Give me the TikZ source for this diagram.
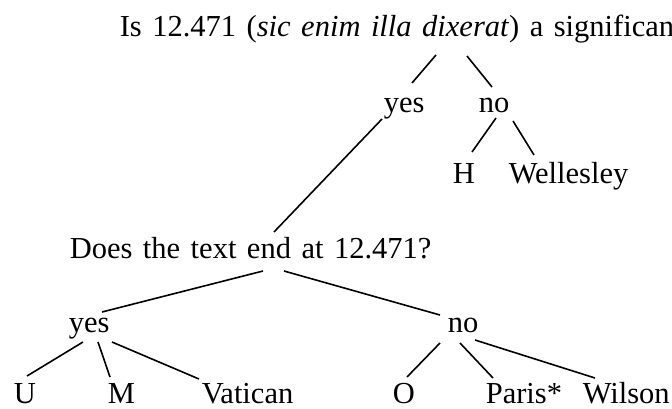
\documentclass[tikz,border=0pt]{standalone}
\usepackage{fontspec}
\setmainfont{Liberation Serif}
\newcommand{\treefont}{\fontsize{30.5}{36}\selectfont\spaceskip=10.5pt\relax}

\begin{document}
\begin{tikzpicture}[x=1pt, y=-1pt, line width=1.6pt,
    lbl/.style={font=\treefont, inner sep=0pt, anchor=base west}]
                \useasboundingbox (0,0) rectangle (672,408);
                % questions and answers
                \node[lbl] (root) at (119,36.5) {Is 12.471 (\textit{sic enim illa dixerat}) a significan};
                \node[lbl] (yes1) at (383,112) {yes};
                \node[lbl] (no1) at (478,112) {no};
                \node[lbl] (h) at (452,183) {H};
                \node[lbl] (wellesley) at (508,183) {Wellesley};
                \node[lbl] (does) at (69,258) {Does the text end at 12.471?};
                \node[lbl] (yes2) at (68,332) {yes};
                \node[lbl] (no2) at (447,332) {no};
                \node[lbl] (u) at (13,403) {U};
                \node[lbl] (m) at (107,403) {M};
                \node[lbl] (vatican) at (201,403) {Vatican};
                \node[lbl] (o) at (392,403) {O};
                \node[lbl] (paris) at (485,403) {Paris*};
                \node[lbl] (wilson) at (582,403) {Wilson};
                % branches
                \draw ([shift={(317,18.5)}]root.base west) -- ([shift={(29,-29)}]yes1.base west);
                \draw ([shift={(348,19.5)}]root.base west) -- ([shift={(14,-25)}]no1.base west);
                \draw ([shift={(18,6)}]no1.base west) -- ([shift={(20,-31)}]h.base west);
                \draw ([shift={(35,9)}]no1.base west) -- ([shift={(26,-28)}]wellesley.base west);
                \draw ([shift={(-1,7)}]yes1.base west) -- ([shift={(205,-26)}]does.base west);
                \draw ([shift={(194,13)}]does.base west) -- ([shift={(34,-20)}]yes2.base west);
                \draw ([shift={(215,13)}]does.base west) -- ([shift={(-7,-17)}]no2.base west);
                \draw ([shift={(15,10)}]yes2.base west) -- ([shift={(14,-27)}]u.base west);
                \draw ([shift={(30,10)}]yes2.base west) -- ([shift={(3,-26)}]m.base west);
                \draw ([shift={(44,10)}]yes2.base west) -- ([shift={(-2,-24)}]vatican.base west);
                \draw ([shift={(-7,11)}]no2.base west) -- ([shift={(15,-26)}]o.base west);
                \draw ([shift={(13,11)}]no2.base west) -- ([shift={(8,-25)}]paris.base west);
                \draw ([shift={(28,8)}]no2.base west) -- ([shift={(13,-25)}]wilson.base west);
            \end{tikzpicture}
\end{document}
